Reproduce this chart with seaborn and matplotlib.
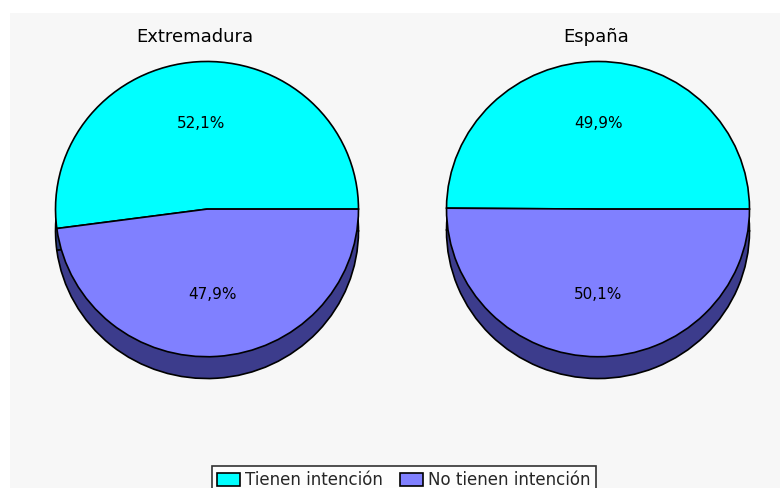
import numpy as np
import seaborn as sns
import matplotlib.pyplot as plt
from matplotlib.patches import Rectangle, Patch

regions = ["Extremadura", "España"]
series = ["Tienen intención", "No tienen intención"]
tienen = [52.1, 49.9]
no_tienen = [47.9, 50.1]

sns.set_theme(style="white")
plt.rcParams['font.family'] = ['DejaVu Sans']

face_colors = sns.color_palette(["#00ffff", "#8080ff"])
side_colors = sns.color_palette(["#2a3a7a", "#3c3c8c"])

W, H = 780, 488
fig = plt.figure(figsize=(W / 100, H / 100), dpi=100, facecolor="white")

# light gray panel
fig.patches.append(Rectangle((10 / W, 0), 1, (H - 13) / H, transform=fig.transFigure,
                             facecolor="#f7f7f7", edgecolor="none", zorder=-10))

# pie geometry in pixels
centers_x = [207, 598]
rx, ry = 153, 149
face_top = 60
depth = 22
d = depth / ry

for i, name in enumerate(regions):
    left = (centers_x[i] - rx) / W
    bottom = (H - (face_top + 2 * ry + depth)) / H
    ax = fig.add_axes([left, bottom, 2 * rx / W, (2 * ry + depth) / H])
    ax.set_facecolor("none")
    ax.patch.set_alpha(0)
    vals = [tienen[i], no_tienen[i]]

    # side of the 3D pie
    for off in np.linspace(d, 0.01, 14):
        ax.pie(vals, colors=side_colors, startangle=0, center=(0, -off), radius=1,
               wedgeprops=dict(edgecolor="none"), frame=True)
    ax.pie(vals, colors=side_colors, startangle=0, center=(0, -d), radius=1,
           wedgeprops=dict(edgecolor="black", linewidth=1.2), frame=True)
    # top face
    ax.pie(vals, colors=face_colors, startangle=0, center=(0, 0), radius=1,
           autopct=lambda p: f"{p:.1f}%".replace(".", ","), pctdistance=0.58,
           textprops=dict(fontsize=11, color="black"),
           wedgeprops=dict(edgecolor="black", linewidth=1.2), frame=True)

    ax.set_aspect("auto")
    ax.set_xlim(-1.01, 1.01)
    ax.set_ylim(-1 - d - 0.01, 1.01)
    ax.axis("off")

    fig.text(centers_x[i] / W - (12 if i == 0 else 2) / W, (H - 37) / H, name,
             ha="center", va="center", fontsize=13, color="black")

handles = [Patch(facecolor=face_colors[j], edgecolor="black", linewidth=1.2, label=series[j])
           for j in range(2)]
leg = fig.legend(handles=handles, loc="upper center", bbox_to_anchor=(404 / W, (H - 458) / H),
                 ncol=2, frameon=True, fontsize=12, handlelength=1.4, handleheight=0.8,
                 handletextpad=0.3, columnspacing=1.0, borderpad=0.3, fancybox=False)
leg.get_frame().set_edgecolor("black")
leg.get_frame().set_linewidth(1.2)
leg.get_frame().set_facecolor("white")

fig.savefig("out.png", dpi=100, facecolor="white")
